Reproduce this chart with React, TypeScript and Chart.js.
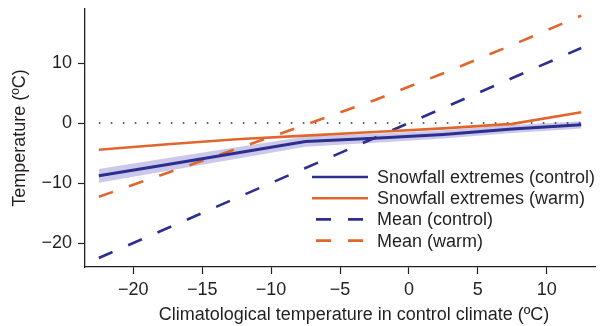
import React, { useEffect, useRef } from "react";
import { Chart, registerables } from "chart.js";

Chart.register(...registerables);

// Bin centres of climatological temperature in the control climate (ºC)
const binCentres = [-22.5, -17.5, -12.5, -7.5, -2.5, 2.5, 7.5, 12.5];

// Snowfall-extreme temperatures (ºC)
const extremesControl = [-8.8, -6.9, -5.0, -3.1, -2.55, -1.9, -1.0, -0.3];
const extremesControlSpread = [1.15, 1.05, 0.95, 0.85, 0.75, 0.7, 0.65, 0.6];
const extremesWarm = [-4.45, -3.55, -2.7, -2.1, -1.5, -0.9, -0.15, 1.8];

// Mean temperatures (ºC)
const meanControl = [-22.5, -17.5, -12.5, -7.5, -2.5, 2.5, 7.5, 12.5];
const meanWarm = [-12.3, -8.3, -4.3, -0.3, 3.8, 8.3, 13.0, 17.9];

// Reference level for the dotted freezing line
const zeroLevel = [0, 0];

const xTickValues = [-20, -15, -10, -5, 0, 5, 10];
const yTickValues = [-20, -10, 0, 10];

const xTitle = "Climatological temperature in control climate (ºC)";
const yTitle = "Temperature (ºC)";

const FONT_FAMILY = '"Liberation Sans", Arial, Helvetica, sans-serif';
const INK = "#231f20";
const BLUE = "#2d2f8e";
const ORANGE = "#e0662e";
const BAND = "rgba(118, 110, 200, 0.38)";

const legendItems = [
  { label: "Snowfall extremes (control)", color: BLUE, dash: [] as number[] },
  { label: "Snowfall extremes (warm)", color: ORANGE, dash: [] as number[] },
  { label: "Mean (control)", color: BLUE, dash: [15, 17] },
  { label: "Mean (warm)", color: ORANGE, dash: [15, 17] },
];

const pairs = (ys: number[]) => binCentres.map((x, i) => ({ x, y: ys[i] }));

const minusLabel = (v: number) => (v < 0 ? "\u2212" + Math.abs(v) : String(v));

// Legend inside the plot area plus the two axis titles
const annotations = {
  id: "annotations",
  afterDraw(chart: any) {
    const { ctx, chartArea } = chart;
    ctx.save();
    ctx.font = `18px ${FONT_FAMILY}`;
    ctx.fillStyle = INK;

    // legend
    ctx.textBaseline = "middle";
    ctx.textAlign = "left";
    legendItems.forEach((item, i) => {
      const y = chartArea.top + 168 + i * 21.2;
      const solid = item.dash.length === 0;
      const x0 = chartArea.left + (solid ? 227 : 231);
      const x1 = chartArea.left + (solid ? 283 : 278);
      ctx.strokeStyle = item.color;
      ctx.lineWidth = 2.6;
      ctx.setLineDash(item.dash);
      ctx.beginPath();
      ctx.moveTo(x0, y);
      ctx.lineTo(x1, y);
      ctx.stroke();
      ctx.fillText(item.label, chartArea.left + 292, y + 1);
    });
    ctx.setLineDash([]);

    // x-axis title
    ctx.textAlign = "center";
    ctx.textBaseline = "alphabetic";
    ctx.fillText(xTitle, chartArea.left + 269, chartArea.bottom + 53);

    // y-axis title
    ctx.translate(25, (chartArea.top + chartArea.bottom) / 2);
    ctx.rotate(-Math.PI / 2);
    ctx.fillText(yTitle, 0, 0);
    ctx.restore();
  },
};

export default function App() {
  const canvasRef = useRef<HTMLCanvasElement | null>(null);

  useEffect(() => {
    const canvas = canvasRef.current;
    if (!canvas) return;

    const lineBase = {
      pointRadius: 0,
      tension: 0,
      fill: false,
    };

    const chart = new Chart(canvas, {
      type: "line",
      data: {
        datasets: [
          {
            ...lineBase,
            label: "Snowfall extremes (control)",
            data: pairs(extremesControl),
            borderColor: BLUE,
            borderWidth: 3,
          },
          {
            ...lineBase,
            label: "Snowfall extremes (warm)",
            data: pairs(extremesWarm),
            borderColor: ORANGE,
            borderWidth: 2.6,
          },
          {
            ...lineBase,
            label: "Mean (control)",
            data: pairs(meanControl),
            borderColor: BLUE,
            borderWidth: 2.6,
            borderDash: [15, 17],
          },
          {
            ...lineBase,
            label: "Mean (warm)",
            data: pairs(meanWarm),
            borderColor: ORANGE,
            borderWidth: 2.6,
            borderDash: [15, 17],
          },
          {
            ...lineBase,
            label: "zero",
            data: [
              { x: binCentres[0], y: zeroLevel[0] },
              { x: binCentres[binCentres.length - 1], y: zeroLevel[1] },
            ],
            borderColor: "#333333",
            borderWidth: 1.6,
            borderDash: [1.6, 10.4],
          },
          {
            ...lineBase,
            label: "spread upper",
            data: pairs(extremesControl.map((v, i) => v + extremesControlSpread[i])),
            borderWidth: 0,
            borderColor: "rgba(0,0,0,0)",
          },
          {
            ...lineBase,
            label: "spread lower",
            data: pairs(extremesControl.map((v, i) => v - extremesControlSpread[i])),
            borderWidth: 0,
            borderColor: "rgba(0,0,0,0)",
            backgroundColor: BAND,
            fill: "-1",
          },
        ],
      },
      options: {
        animation: false,
        responsive: false,
        devicePixelRatio: 1,
        events: [],
        layout: { padding: { top: 9, right: 10, left: 0, bottom: 0 } },
        plugins: {
          legend: { display: false },
          tooltip: { enabled: false },
          title: { display: false },
        },
        scales: {
          x: {
            type: "linear",
            min: -23.5,
            max: 13.5,
            afterBuildTicks: (s: any) => {
              s.ticks = xTickValues.map((value) => ({ value }));
            },
            afterFit: (s: any) => {
              s.height = 59;
              s.paddingLeft = 0;
              s.paddingRight = 0;
            },
            grid: {
              display: true,
              drawOnChartArea: false,
              drawTicks: true,
              tickLength: 7,
              tickWidth: 1.2,
              tickColor: INK,
            },
            border: { display: true, color: INK, width: 1.3 },
            ticks: {
              color: INK,
              padding: 5,
              maxRotation: 0,
              font: { family: FONT_FAMILY, size: 18 },
              callback: (v: any) => minusLabel(Number(v)),
            },
            title: { display: false },
          },
          y: {
            type: "linear",
            min: -24,
            max: 19,
            afterBuildTicks: (s: any) => {
              s.ticks = yTickValues.map((value) => ({ value }));
            },
            afterFit: (s: any) => {
              s.width = 85;
              s.paddingTop = 0;
              s.paddingBottom = 0;
            },
            grid: {
              display: true,
              drawOnChartArea: false,
              drawTicks: true,
              tickLength: 7,
              tickWidth: 1.2,
              tickColor: INK,
            },
            border: { display: true, color: INK, width: 1.3 },
            ticks: {
              color: INK,
              padding: 6,
              font: { family: FONT_FAMILY, size: 18 },
              callback: (v: any) => minusLabel(Number(v)),
            },
            title: { display: false },
          },
        },
      },
      plugins: [annotations],
    });

    return () => chart.destroy();
  }, []);

  return (
    <div style={{ position: "fixed", left: 0, top: 0, width: 605, height: 326, background: "#ffffff" }}>
      <canvas ref={canvasRef} width={605} height={326} />
    </div>
  );
}
